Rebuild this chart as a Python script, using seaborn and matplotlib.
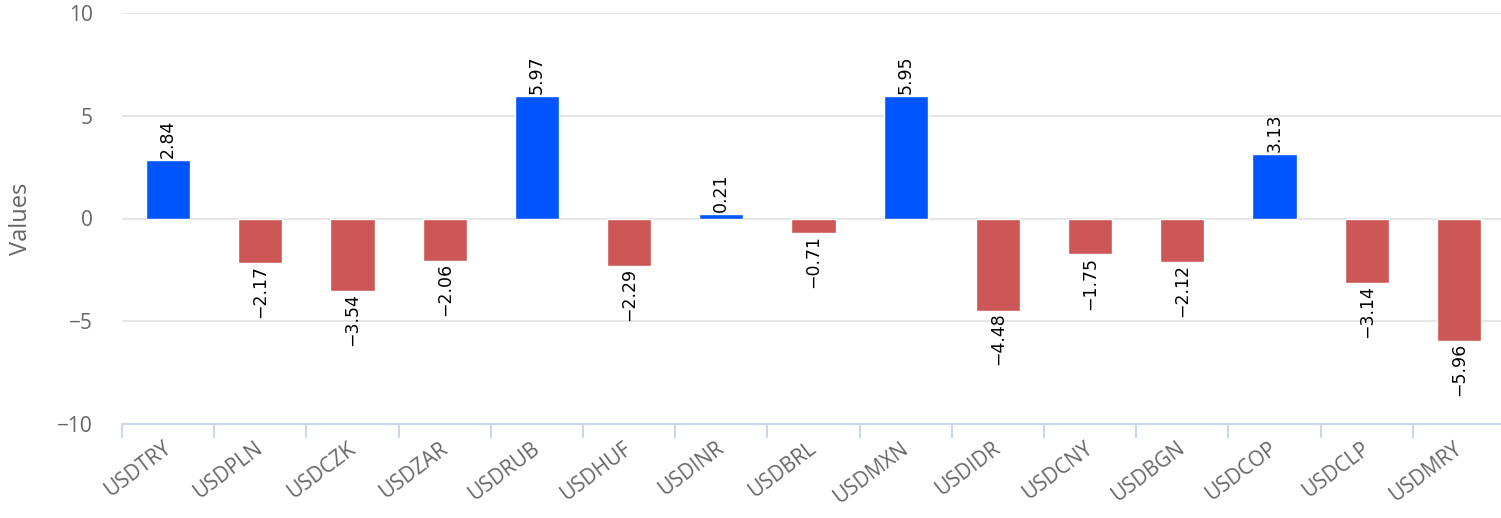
import numpy as np
import pandas as pd
import matplotlib
matplotlib.use("Agg")
import matplotlib.pyplot as plt
import matplotlib.transforms as mtransforms
import seaborn as sns

pairs = ["USDTRY", "USDPLN", "USDCZK", "USDZAR", "USDRUB", "USDHUF", "USDINR", "USDBRL",
         "USDMXN", "USDIDR", "USDCNY", "USDBGN", "USDCOP", "USDCLP", "USDMRY"]
values = [2.84, -2.17, -3.54, -2.06, 5.97, -2.29, 0.21, -0.71,
          5.95, -4.48, -1.75, -2.12, 3.13, -3.14, -5.96]

df = pd.DataFrame({"pair": pairs, "value": values})
df["sign"] = np.where(df["value"] >= 0, "pos", "neg")

sns.set_style("white")
plt.rcParams["font.family"] = ["Open Sans", "DejaVu Sans"]

fig = plt.figure(figsize=(15.01, 5.18), dpi=100)
ax = fig.add_axes([122 / 1501, (518 - 424) / 518, (1505 - 122) / 1501, (424 - 13) / 518])

sns.barplot(data=df, x="pair", y="value", hue="sign", dodge=False, legend=False,
            palette={"pos": "#0055ff", "neg": "#cd5656"}, saturation=1, width=0.48,
            edgecolor="white", linewidth=1, ax=ax)

ax.set_ylim(-10, 10)
ax.set_xlim(-0.5, len(pairs) - 0.5)
ax.set_yticks([-10, -5, 0, 5, 10])
ax.set_yticklabels(["\u221210", "\u22125", "0", "5", "10"])
for y in [-5, 0, 5, 10]:
    ax.axhline(y, color="#e6e6e6", lw=1.5, zorder=0)

for s in ["top", "right", "left"]:
    ax.spines[s].set_visible(False)
ax.spines["bottom"].set_color("#ccd6eb")
ax.spines["bottom"].set_linewidth(1.5)

ax.tick_params(axis="y", left=False, length=0, labelsize=15, labelcolor="#666666", pad=21)
ax.set_xticks(np.arange(len(pairs)))
ax.set_xticklabels(pairs, rotation=37, ha="right", rotation_mode="anchor")
ax.tick_params(axis="x", which="major", length=0, labelsize=15, labelcolor="#666666", pad=10)
ax.set_xticks(np.arange(len(pairs)) - 0.5, minor=True)
ax.tick_params(axis="x", which="minor", bottom=True, length=10, width=1.5,
               color="#ccd6eb", direction="out")

# nudge the slanted labels a little to the left
shift = mtransforms.ScaledTranslation(-6 / 100, 0, fig.dpi_scale_trans)
for lbl in ax.get_xticklabels():
    lbl.set_transform(lbl.get_transform() + shift)

ax.set_xlabel("")
ax.set_ylabel("Values", fontsize=17, color="#666666")
ax.yaxis.set_label_coords(-0.064, 0.5)

for i, v in enumerate(values):
    txt = f"{v:.2f}".replace("-", "\u2212")
    if v >= 0:
        ax.text(i, v + 0.1, txt, rotation=90, ha="center", va="bottom",
                fontsize=12.5, family="DejaVu Sans", color="black")
    else:
        ax.text(i, v - 0.1, txt, rotation=90, ha="center", va="top",
                fontsize=12.5, family="DejaVu Sans", color="black")

fig.savefig("out.png", dpi=100)
